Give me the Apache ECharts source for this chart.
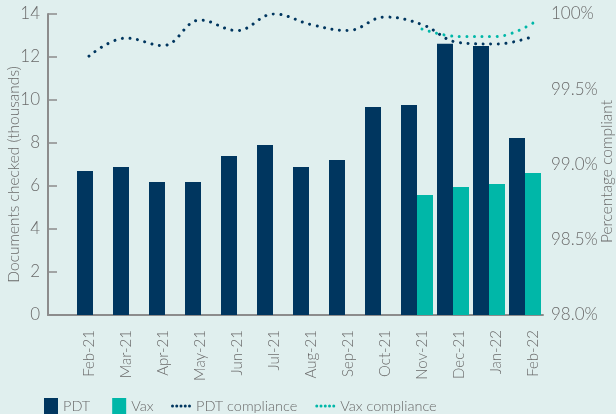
<!DOCTYPE html>
<html>
<head>
<meta charset="utf-8">
<script src="https://cdn.jsdelivr.net/npm/echarts@6/dist/echarts.min.js"></script>
<style>
html,body{margin:0;padding:0;background:#e0efee;}
#c{width:616px;height:414px;}
</style>
</head>
<body>
<div id="c"></div>
<script>
const categories = ['Feb-21','Mar-21','Apr-21','May-21','Jun-21','Jul-21','Aug-21','Sep-21','Oct-21','Nov-21','Dec-21','Jan-22','Feb-22'];
const pdtDocs = [6.70, 6.88, 6.19, 6.19, 7.40, 7.91, 6.88, 7.21, 9.67, 9.77, 12.62, 12.51, 8.23];
const vaxDocs = [null, null, null, null, null, null, null, null, null, 5.58, 5.95, 6.09, 6.60];
const pdtCompliance = [99.72, 99.84, 99.79, 99.96, 99.89, 100.0, 99.93, 99.89, 99.98, 99.93, 99.81, 99.80, 99.85];
const vaxCompliance = [null, null, null, null, null, null, null, null, null, 99.90, 99.85, 99.85, 99.94];
const leftTicks = [0, 2, 4, 6, 8, 10, 12, 14];
const rightTicks = [98.0, 98.5, 99.0, 99.5, 100.0];
const rightTickLabels = ['98.0%', '98.5%', '99.0%', '99.5%', '100%'];

const NAVY = '#00365f', TEAL = '#00b7a8', TXT = '#6a6a6a', AX = '#8c8c8c';
const FONT = 'Lato';
const FW = 300;
const lMin = leftTicks[0], lMax = leftTicks[leftTicks.length-1], lInt = leftTicks[1]-leftTicks[0];
const rMin = rightTicks[0], rMax = rightTicks[rightTicks.length-1], rInt = rightTicks[1]-rightTicks[0];
const G = {top: 14, bottom: 99};
const DOTS = 'path://M0 1.5a1.5 1.5 0 1 0 3 0a1.5 1.5 0 1 0 -3 0M4.25 1.5a1.5 1.5 0 1 0 3 0a1.5 1.5 0 1 0 -3 0M8.5 1.5a1.5 1.5 0 1 0 3 0a1.5 1.5 0 1 0 -3 0M12.75 1.5a1.5 1.5 0 1 0 3 0a1.5 1.5 0 1 0 -3 0M17 1.5a1.5 1.5 0 1 0 3 0a1.5 1.5 0 1 0 -3 0';

const chart = echarts.init(document.getElementById('c'), null, {renderer: 'canvas'});
chart.setOption({
  animation: false,
  backgroundColor: '#e0efee',
  textStyle: {fontFamily: FONT, fontWeight: FW},
  grid: [
    {left: 48, right: 73, top: G.top, bottom: G.bottom, outerBoundsMode: 'none', containLabel: false},
    {left: 75, right: 73, top: G.top, bottom: G.bottom, outerBoundsMode: 'none', containLabel: false},
    {left: 89, right: 83, top: G.top, bottom: G.bottom, outerBoundsMode: 'none', containLabel: false}
  ],
  xAxis: [
    {gridIndex: 0, type: 'value', min: 0, max: 1, axisLine: {show: true, onZero: false, lineStyle: {color: AX, width: 2}},
     axisTick: {show: false}, axisLabel: {show: false}, splitLine: {show: false}},
    {gridIndex: 1, type: 'category', data: categories, show: false},
    {gridIndex: 2, type: 'category', data: categories, boundaryGap: false,
     axisLine: {show: false}, axisTick: {show: false}, splitLine: {show: false},
     axisLabel: {rotate: 90, margin: 15, color: TXT, fontSize: 15, fontFamily: FONT, fontWeight: FW, interval: 0}}
  ],
  yAxis: [
    {gridIndex: 0, type: 'value', min: lMin, max: lMax, interval: lInt, position: 'left',
     axisLine: {show: true, lineStyle: {color: AX, width: 2}},
     axisTick: {show: true, inside: true, length: 9, lineStyle: {color: AX, width: 1.5}},
     axisLabel: {color: TXT, fontSize: 17, margin: 8, fontFamily: FONT, fontWeight: FW},
     splitLine: {show: false},
     name: 'Documents checked (thousands)', nameLocation: 'middle', nameRotate: 90, nameGap: 26,
     nameMoveOverlap: false,
     nameTextStyle: {color: TXT, fontSize: 15.5, fontFamily: FONT, fontWeight: FW, padding: [0, 20, 0, 0]}},
    {gridIndex: 0, type: 'value', min: rMin, max: rMax, interval: rInt, position: 'right',
     axisLine: {show: false}, axisTick: {show: false}, splitLine: {show: false},
     axisLabel: {color: TXT, fontSize: 17, margin: 8, fontFamily: FONT, fontWeight: FW,
       formatter: v => { const i = rightTicks.findIndex(t => Math.abs(t - v) < 1e-6); return i >= 0 ? rightTickLabels[i] : ''; }},
     name: 'Percentage compliant', nameLocation: 'middle', nameRotate: 90, nameGap: 56,
     nameMoveOverlap: false,
     nameTextStyle: {color: TXT, fontSize: 15.5, fontFamily: FONT, fontWeight: FW, padding: [0, 14, 0, 0]}},
    {gridIndex: 1, type: 'value', min: lMin, max: lMax, show: false},
    {gridIndex: 2, type: 'value', min: rMin, max: rMax, show: false}
  ],
  legend: [
    {left: 39, top: 393, itemWidth: 14, itemHeight: 16, itemGap: 22, icon: 'rect',
     textStyle: {color: TXT, fontSize: 14.5, fontFamily: FONT, fontWeight: FW},
     data: ['PDT', 'Vax']},
    {left: 166, top: 393, itemWidth: 20, itemHeight: 3, itemGap: 18,
     textStyle: {color: TXT, fontSize: 14.5, fontFamily: FONT, fontWeight: FW, lineHeight: 16},
     data: [
       {name: 'PDT compliance', icon: DOTS},
       {name: 'Vax compliance', icon: DOTS}
     ]}
  ],
  series: [
    {name: 'PDT', type: 'bar', xAxisIndex: 1, yAxisIndex: 2, data: pdtDocs, barWidth: 16, barGap: '0%',
     itemStyle: {color: NAVY}},
    {name: 'Vax', type: 'bar', xAxisIndex: 1, yAxisIndex: 2, data: vaxDocs, barWidth: 16, barGap: '0%',
     itemStyle: {color: TEAL}},
    {name: 'PDT compliance', type: 'line', xAxisIndex: 2, yAxisIndex: 3, data: pdtCompliance, smooth: 0.4,
     symbol: 'none', lineStyle: {color: NAVY, width: 3, type: [0.01, 7.6], cap: 'round'}, itemStyle: {color: NAVY}},
    {name: 'Vax compliance', type: 'line', xAxisIndex: 2, yAxisIndex: 3, data: vaxCompliance, smooth: 0.4,
     symbol: 'none', lineStyle: {color: TEAL, width: 3, type: [0.01, 7.6], cap: 'round'}, itemStyle: {color: TEAL}}
  ]
});
</script>
</body>
</html>
